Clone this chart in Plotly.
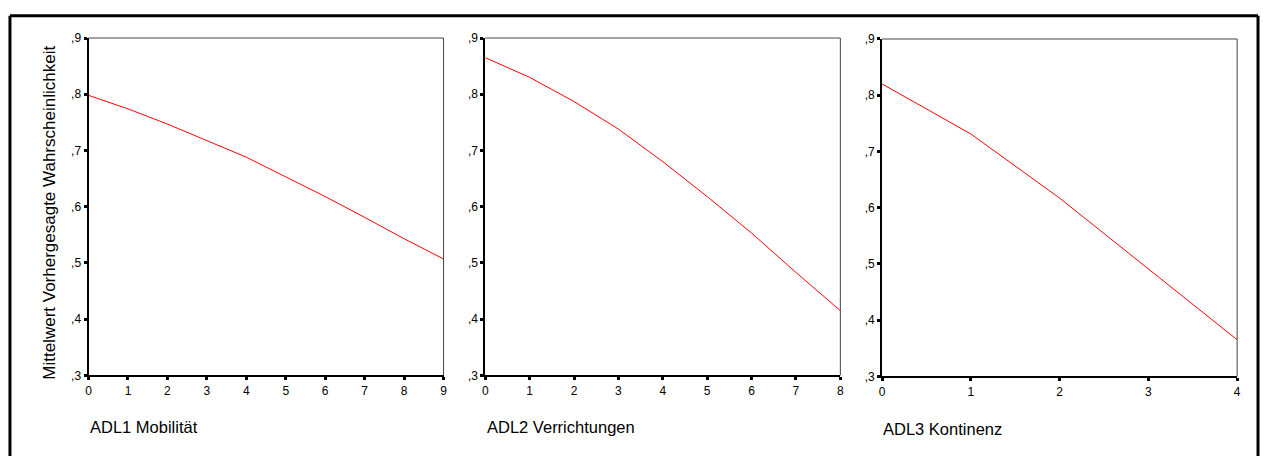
import plotly.graph_objects as go

# ---- data ----
adl1_x = [0, 1, 2, 3, 4, 5, 6, 7, 8, 9]
adl1_y = [0.798, 0.774, 0.747, 0.718, 0.688, 0.653, 0.618, 0.581, 0.543, 0.507]

adl2_x = [0, 1, 2, 3, 4, 5, 6, 7, 8]
adl2_y = [0.865, 0.830, 0.787, 0.738, 0.680, 0.618, 0.553, 0.483, 0.415]

adl3_x = [0, 1, 2, 3, 4]
adl3_y = [0.820, 0.731, 0.617, 0.491, 0.365]

panel_titles = ["ADL1 Mobilität", "ADL2 Verrichtungen", "ADL3 Kontinenz"]
y_title = "Mittelwert Vorhergesagte Wahrscheinlichkeit"
y_tickvals = [0.3, 0.4, 0.5, 0.6, 0.7, 0.8, 0.9]
y_ticktext = [",3", ",4", ",5", ",6", ",7", ",8", ",9"]

W, H = 1266, 456
FONT = "Liberation Sans, Arial, sans-serif"

def px_x(v):
    return v / W

def px_y(v):
    return (H - v) / H

panels = [
    (adl1_x, adl1_y, 86, 443, 32, 380, 85, 433),
    (adl2_x, adl2_y, 485, 842, 32, 380, 485, 433),
    (adl3_x, adl3_y, 884, 1241, 33, 381, 883, 435),
]

fig = go.Figure()
layout = dict(
    width=W, height=H,
    margin=dict(l=0, r=0, t=0, b=0),
    paper_bgcolor="white", plot_bgcolor="white",
    showlegend=False,
    font=dict(family=FONT, color="black", size=12),
)
shapes = []
annotations = []

for i, (xs, ys, xl, xr, yt, yb, tx, ty) in enumerate(panels):
    n = i + 1
    xa = "x" if n == 1 else f"x{n}"
    ya = "y" if n == 1 else f"y{n}"
    fig.add_trace(go.Scatter(x=xs, y=ys, mode="lines",
                             line=dict(color="#ff0000", width=1),
                             xaxis=xa, yaxis=ya, hoverinfo="skip"))
    xkey = "xaxis" if n == 1 else f"xaxis{n}"
    ykey = "yaxis" if n == 1 else f"yaxis{n}"
    layout[xkey] = dict(
        domain=[px_x(xl), px_x(xr)], anchor=ya,
        range=[0, max(xs)], tickvals=list(xs),
        showgrid=False, zeroline=False,
        showline=True, linecolor="black", linewidth=2,
        ticks="outside", ticklen=3, tickwidth=3, tickcolor="black",
        tickfont=dict(family=FONT, size=12, color="black"),
    )
    layout[ykey] = dict(
        domain=[px_y(yb), px_y(yt)], anchor=xa,
        range=[0.3, 0.9], tickvals=y_tickvals, ticktext=y_ticktext,
        showgrid=False, zeroline=False,
        showline=True, linecolor="black", linewidth=2,
        ticks="outside", ticklen=3, tickwidth=3, tickcolor="black",
        tickfont=dict(family=FONT, size=12, color="black"),
    )
    # top and right frame lines (thin gray)
    shapes.append(dict(type="line", xref=f"{xa} domain", yref=f"{ya} domain",
                       x0=0, x1=1, y0=1, y1=1, line=dict(color="#444444", width=1)))
    shapes.append(dict(type="line", xref=f"{xa} domain", yref=f"{ya} domain",
                       x0=1, x1=1, y0=0, y1=1, line=dict(color="#444444", width=1)))
    annotations.append(dict(text=panel_titles[i], xref="paper", yref="paper",
                            x=px_x(tx), y=px_y(ty), xanchor="left", yanchor="middle",
                            showarrow=False, font=dict(family=FONT, size=16.5, color="black")))

annotations.append(dict(text=y_title, xref="paper", yref="paper",
                        x=px_x(47), y=px_y(212.5), xanchor="center", yanchor="middle",
                        textangle=-90, showarrow=False,
                        font=dict(family=FONT, size=17, color="black")))

# outer frame (left, top, right)
shapes.append(dict(type="line", xref="paper", yref="paper",
                   x0=px_x(7), x1=px_x(7), y0=-0.05, y1=px_y(9),
                   line=dict(color="black", width=3)))
shapes.append(dict(type="line", xref="paper", yref="paper",
                   x0=px_x(7), x1=px_x(1262), y0=px_y(9), y1=px_y(9),
                   line=dict(color="black", width=3)))
shapes.append(dict(type="line", xref="paper", yref="paper",
                   x0=px_x(1262), x1=px_x(1262), y0=-0.05, y1=px_y(9),
                   line=dict(color="black", width=3)))

layout["shapes"] = shapes
layout["annotations"] = annotations
fig.update_layout(**layout)

fig.write_html("out.html", config={"displayModeBar": False},
               post_script="document.body.style.margin='0';document.body.style.overflow='hidden';")
